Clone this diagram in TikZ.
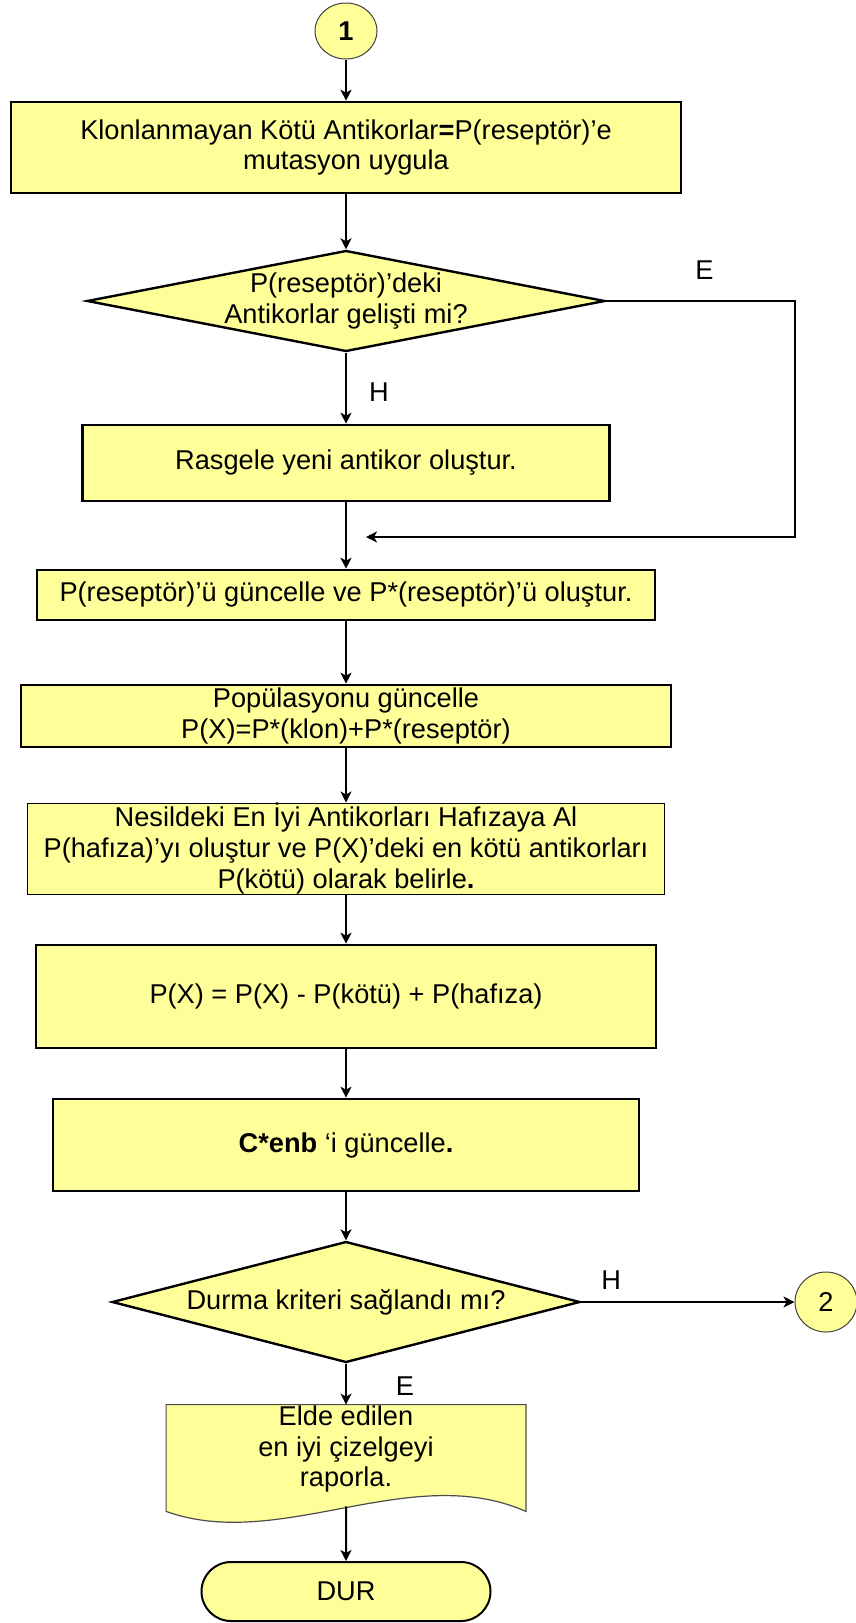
\documentclass[tikz,border=0pt]{standalone}
\usepackage{fontspec}
\setmainfont{Liberation Sans}
\usepackage{tikz}
\usetikzlibrary{shapes.geometric,shapes.misc,arrows.meta,positioning,calc,backgrounds}
\definecolor{boxfill}{HTML}{FFFF99}
\tikzstyle{process} = [rectangle, draw=black, line width=1.3pt, fill=boxfill, inner sep=0pt, align=center]
\tikzstyle{decision} = [diamond, draw=black, line width=1.2pt, fill=boxfill, inner sep=0pt]
\tikzstyle{connector} = [ellipse, draw=black!75, line width=0.5pt, fill=boxfill, inner sep=0pt]
\tikzstyle{terminal} = [rounded rectangle, draw=black, line width=1pt, fill=boxfill, inner sep=0pt]
\tikzstyle{txt} = [align=center, inner sep=0pt]
\tikzstyle{lbl} = [inner sep=0pt]
\tikzstyle{docline} = [draw=black!70, line width=0.6pt, fill=boxfill]
\tikzstyle{arrow} = [line width=1pt, -{Stealth[length=5.5pt,width=5.5pt,inset=1.5pt]}]

\begin{document}
\begin{tikzpicture}[x=0.5pt, y=-0.5pt, font=\fontsize{13.6}{15.3}\selectfont]
    \useasboundingbox (0,0) rectangle (856,1623);
    \node (c1) [connector, minimum width=31pt, minimum height=28pt] at (346,31) {\textbf{1}};
    \node (box1) [process, minimum width=335pt, minimum height=45.5pt] at (346,147.5) {Klonlanmayan Kötü Antikorlar\textbf{=}P(reseptör)’e\\mutasyon uygula};
    \node (d1) [decision, minimum width=259pt, minimum height=50.5pt] at (346,301) {};
    \node (d1txt) [txt] at (d1.center) {P(reseptör)’deki\\Antikorlar gelişti mi?};
    \node (box2) [process, minimum width=263.5pt, minimum height=38pt] at (346,463) {Rasgele yeni antikor oluştur.};
    \node (box3) [process, minimum width=309pt, minimum height=25pt] at (346,595) {P(reseptör)’ü güncelle ve P*(reseptör)’ü oluştur.};
    \node (box4) [process, minimum width=325pt, minimum height=31pt] at (346,716) {Popülasyonu güncelle\\P(X)=P*(klon)+P*(reseptör)};
    \node (box5) [process, line width=0.5pt, minimum width=318.5pt, minimum height=45.5pt] at (346,848.5) {Nesildeki En İyi Antikorları Hafızaya Al\\P(hafıza)’yı oluştur ve P(X)’deki en kötü antikorları\\P(kötü) olarak belirle\textbf{.}};
    \node (box6) [process, minimum width=310pt, minimum height=51.5pt] at (346,996.5) {P(X) = P(X) - P(kötü) + P(hafıza)};
    \node (box7) [process, minimum width=293pt, minimum height=46pt] at (346,1145) {\textbf{C*enb} ‘i güncelle\textbf{.}};
    \node (d2) [decision, minimum width=234pt, minimum height=60.5pt] at (346,1302) {};
    \node (d2txt) [txt] at (d2.center) {Durma kriteri sağlandı mı?};
    \node (c2) [connector, minimum width=31pt, minimum height=30pt] at (826,1302) {2};
    \node (doc) [txt, minimum width=179.5pt, minimum height=44pt] at (346,1449) {Elde edilen\\en iyi çizelgeyi\\raporla.};
    \node (dur) [terminal, minimum width=144.5pt, minimum height=29.5pt] at (346,1591.5) {DUR};
    \coordinate (ecorner) at (795,301);
    \coordinate (loopend) at (366,537);
    \coordinate (docfoot) at ($(doc.south)+(0,13)$);
    % document outline
    \begin{scope}[on background layer]
        \draw[docline] (doc.north west) -- (doc.north east) -- ($(doc.south east)+(0,18)$)
            .. controls ($(doc.south east)+(-115,-33)$) and ($(doc.south west)+(114,59)$) .. ($(doc.south west)+(0,18)$) -- cycle;
    \end{scope}
    % connectors
    \draw[arrow] (c1) -- (box1);
    \draw[arrow] (box1) -- (d1);
    \draw[arrow] (d1) -- node[lbl, pos=0.55, xshift=16.5pt] {H} (box2);
    \draw[arrow] (d1.east) -- node[lbl, pos=0.52, yshift=15.5pt] {E} (ecorner) |- (loopend);
    \draw[arrow] (box2) -- (box3);
    \draw[arrow] (box3) -- (box4);
    \draw[arrow] (box4) -- (box5);
    \draw[arrow] (box5) -- (box6);
    \draw[arrow] (box6) -- (box7);
    \draw[arrow] (box7) -- (d2);
    \draw[arrow] (d2) -- node[lbl, pos=0.14, yshift=11pt] {H} (c2);
    \draw[arrow] (d2) -- node[lbl, pos=0.55, xshift=29.5pt] {E} (doc);
    \draw[arrow] (docfoot) -- (dur);
\end{tikzpicture}
\end{document}
